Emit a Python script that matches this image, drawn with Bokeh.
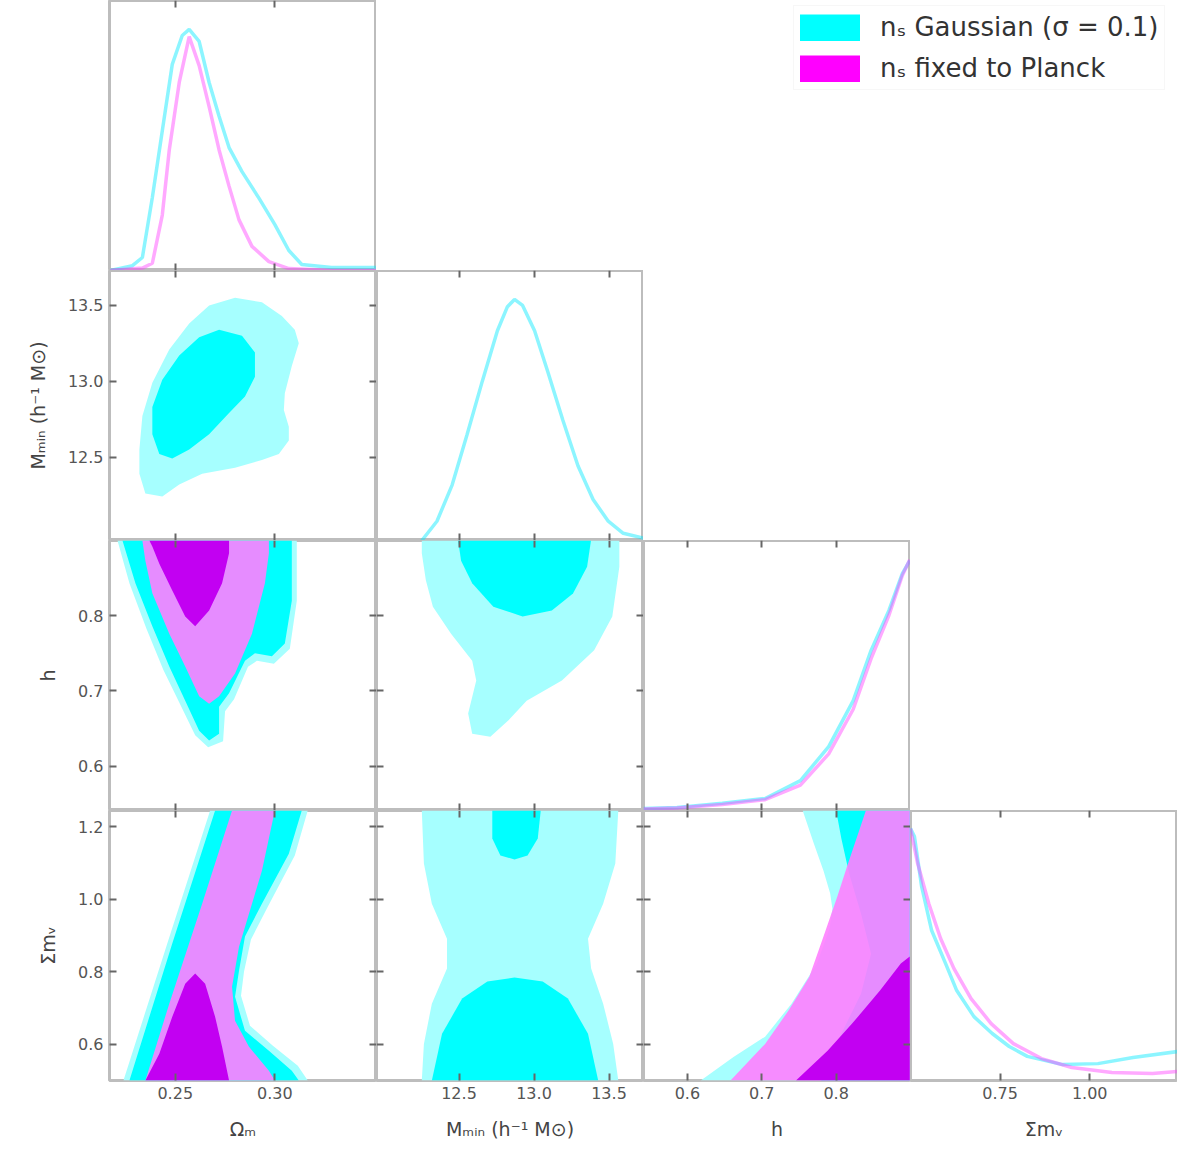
from bokeh.plotting import figure
from bokeh.models import Range1d, LinearAxis, FixedTicker, GridBox, Legend, LegendItem, PrintfTickFormatter
from bokeh.embed import file_html
from bokeh.resources import INLINE

# ---------------- parameters ----------------
PARAM_LABELS = ["Ωₘ", "Mₘᵢₙ (h⁻¹ M⊙)", "h", "Σmᵥ"]
PARAM_RANGES = [(0.217, 0.351), (11.95, 13.73), (0.541, 0.90), (0.50, 1.245)]
X_TICKS = [[0.25, 0.30], [12.5, 13.0, 13.5], [0.6, 0.7, 0.8], [0.75, 1.0]]
Y_TICKS = [[0.25, 0.30], [12.5, 13.0, 13.5], [0.6, 0.7, 0.8], [0.6, 0.8, 1.0, 1.2]]
X_TICK_FMT = ["%.2f", "%.1f", "%.1f", "%.2f"]
Y_TICK_FMT = ["%.2f", "%.1f", "%.1f", "%.1f"]
LEGEND_LABELS = ["nₛ Gaussian (σ = 0.1)", "nₛ fixed to Planck"]

# ---------------- 1D marginals ----------------
P1_CYAN_X = [0.2175, 0.2285, 0.2335, 0.2385, 0.2435, 0.2485, 0.2535, 0.257, 0.262, 0.267, 0.272, 0.277,
             0.2835, 0.292, 0.300, 0.307, 0.3135, 0.3285, 0.351]
P1_CYAN_Y = [0.0, 0.02, 0.054, 0.303, 0.58, 0.855, 0.975, 1.0, 0.95, 0.78, 0.64, 0.51,
             0.41, 0.30, 0.19, 0.083, 0.025, 0.012, 0.012]
P1_MAG_X = [0.2175, 0.2335, 0.2385, 0.2435, 0.247, 0.252, 0.257, 0.262, 0.267, 0.272, 0.277, 0.282,
            0.2885, 0.297, 0.307, 0.3285, 0.351]
P1_MAG_Y = [0.0, 0.01, 0.03, 0.23, 0.50, 0.78, 0.97, 0.85, 0.68, 0.50, 0.35, 0.21,
            0.10, 0.037, 0.008, 0.0, 0.0]

P2_CYAN_X = [12.252, 12.353, 12.454, 12.554, 12.655, 12.756, 12.823, 12.870, 12.924, 13.004, 13.092,
             13.192, 13.293, 13.394, 13.495, 13.595, 13.73]
P2_CYAN_Y = [0.0, 0.08, 0.23, 0.44, 0.66, 0.87, 0.97, 1.0, 0.975, 0.87, 0.70,
             0.50, 0.31, 0.17, 0.08, 0.03, 0.01]

P3_X = [0.541, 0.586, 0.647, 0.7045, 0.752, 0.790, 0.823, 0.847, 0.871, 0.889, 0.899]
P3_CYAN_Y = [0.008, 0.012, 0.03, 0.05, 0.124, 0.265, 0.456, 0.664, 0.83, 0.983, 1.037]
P3_MAG_Y = [0.006, 0.010, 0.025, 0.045, 0.105, 0.235, 0.42, 0.63, 0.81, 0.975, 1.04]

P4_CYAN_X = [0.500, 0.511, 0.531, 0.559, 0.598, 0.629, 0.677, 0.728, 0.7755, 0.826, 0.9245, 1.023, 1.121, 1.245]
P4_CYAN_Y = [1.045, 1.012, 0.805, 0.622, 0.485, 0.373, 0.265, 0.195, 0.141, 0.10, 0.066, 0.07, 0.095, 0.12]
P4_MAG_X = [0.500, 0.520, 0.551, 0.584, 0.621, 0.669, 0.725, 0.787, 0.8655, 0.950, 1.062, 1.175, 1.245]
P4_MAG_Y = [1.045, 0.90, 0.734, 0.589, 0.465, 0.34, 0.236, 0.153, 0.091, 0.054, 0.033, 0.029, 0.037]

# ---------------- 2D credible regions (95% = outer, 68% = inner) ----------------
# row 2, col 1 : P1 vs P2 (cyan only)
R2C1_CYAN95_X = [0.280, 0.2935, 0.3035, 0.310, 0.312, 0.3085, 0.305, 0.3045, 0.307, 0.307, 0.302, 0.2935,
                 0.280, 0.2635, 0.252, 0.2435, 0.235, 0.232, 0.232, 0.2335, 0.2385, 0.247, 0.257, 0.267]
R2C1_CYAN95_Y = [13.55, 13.52, 13.43, 13.34, 13.25, 13.10, 12.92, 12.81, 12.70, 12.61, 12.52, 12.48,
                 12.43, 12.39, 12.32, 12.24, 12.26, 12.39, 12.55, 12.77, 12.99, 13.21, 13.38, 13.50]
R2C1_CYAN68_X = [0.272, 0.2835, 0.290, 0.290, 0.285, 0.277, 0.267, 0.257, 0.2485, 0.242, 0.2385, 0.2385,
                 0.2435, 0.252, 0.262]
R2C1_CYAN68_Y = [13.34, 13.30, 13.19, 13.03, 12.90, 12.79, 12.65, 12.55, 12.49, 12.52, 12.65, 12.83,
                 13.01, 13.17, 13.29]

# row 3, col 1 : P1 vs P3
R3C1_CYAN95_X = [0.221, 0.227, 0.2355, 0.244, 0.2525, 0.260, 0.2665, 0.274, 0.275, 0.2795, 0.2865, 0.291,
                 0.2995, 0.3075, 0.311, 0.311]
R3C1_CYAN95_Y = [0.900, 0.843, 0.783, 0.728, 0.682, 0.641, 0.625, 0.633, 0.673, 0.689, 0.732, 0.740,
                 0.736, 0.756, 0.820, 0.900]
R3C1_CYAN68_X = [0.2235, 0.230, 0.2385, 0.247, 0.255, 0.262, 0.267, 0.272, 0.272, 0.277, 0.285, 0.290,
                 0.2985, 0.305, 0.3085, 0.3085]
R3C1_CYAN68_Y = [0.900, 0.843, 0.786, 0.7325, 0.687, 0.647, 0.634, 0.643, 0.679, 0.697, 0.740, 0.750,
                 0.746, 0.763, 0.820, 0.900]
R3C1_MAG95_X = [0.2335, 0.297, 0.297, 0.295, 0.2885, 0.280, 0.272, 0.267, 0.262, 0.255, 0.247, 0.2385, 0.235]
R3C1_MAG95_Y = [0.900, 0.900, 0.883, 0.843, 0.776, 0.723, 0.693, 0.683, 0.693, 0.7325, 0.776, 0.830, 0.873]
R3C1_MAG68_X = [0.237, 0.277, 0.277, 0.2735, 0.267, 0.260, 0.255, 0.2485, 0.242, 0.2385]
R3C1_MAG68_Y = [0.900, 0.900, 0.883, 0.843, 0.807, 0.786, 0.799, 0.8335, 0.869, 0.892]

# row 4, col 1 : P1 vs P4
R4C1_CYAN95_X = [0.2675, 0.3165, 0.310, 0.2965, 0.288, 0.2845, 0.283, 0.2875, 0.299, 0.3115, 0.3165, 0.224, 0.246]
R4C1_CYAN95_Y = [1.245, 1.245, 1.121, 0.980, 0.889, 0.800, 0.734, 0.651, 0.596, 0.541, 0.500, 0.500, 0.878]
R4C1_CYAN68_X = [0.270, 0.3135, 0.307, 0.2935, 0.285, 0.282, 0.280, 0.285, 0.297, 0.3085, 0.312, 0.227, 0.2485]
R4C1_CYAN68_Y = [1.245, 1.245, 1.126, 0.988, 0.897, 0.803, 0.731, 0.637, 0.582, 0.527, 0.500, 0.500, 0.878]
R4C1_MAG95_X = [0.2785, 0.300, 0.2935, 0.287, 0.282, 0.2785, 0.280, 0.287, 0.297, 0.300, 0.235, 0.247, 0.2635]
R4C1_MAG95_Y = [1.245, 1.245, 1.079, 0.960, 0.869, 0.759, 0.665, 0.593, 0.527, 0.500, 0.500, 0.712, 0.988]
R4C1_MAG68_X = [0.235, 0.242, 0.2485, 0.255, 0.260, 0.265, 0.270, 0.2735, 0.277]
R4C1_MAG68_Y = [0.500, 0.574, 0.676, 0.767, 0.795, 0.767, 0.676, 0.593, 0.500]

# row 3, col 2 : P2 vs P3 (cyan only)
R3C2_CYAN95_X = [12.252, 13.569, 13.569, 13.522, 13.401, 13.186, 12.951, 12.830, 12.709, 12.588, 12.561,
                 12.615, 12.588, 12.447, 12.326, 12.279, 12.252]
R3C2_CYAN95_Y = [0.900, 0.900, 0.865, 0.799, 0.754, 0.714, 0.687, 0.661, 0.639, 0.643, 0.670,
                 0.714, 0.740, 0.776, 0.812, 0.847, 0.883]
R3C2_CYAN68_X = [12.494, 13.380, 13.354, 13.260, 13.119, 12.924, 12.729, 12.588, 12.514]
R3C2_CYAN68_Y = [0.900, 0.900, 0.865, 0.8295, 0.807, 0.799, 0.812, 0.843, 0.873]

# row 4, col 2 : P2 vs P4 (cyan only, two inner islands)
R4C2_CYAN95_X = [12.252, 12.266, 12.319, 12.420, 12.420, 12.319, 12.266, 12.252, 13.562, 13.528, 13.461,
                 13.381, 13.360, 13.461, 13.542, 13.562]
R4C2_CYAN95_Y = [1.245, 1.099, 0.988, 0.891, 0.809, 0.712, 0.601, 0.500, 0.500, 0.601, 0.712,
                 0.809, 0.891, 0.988, 1.099, 1.245]
R4C2_CYAN68A_X = [12.722, 13.045, 13.025, 12.957, 12.870, 12.776, 12.722]
R4C2_CYAN68A_Y = [1.245, 1.245, 1.168, 1.121, 1.110, 1.121, 1.168]
R4C2_CYAN68B_X = [12.319, 12.387, 12.521, 12.689, 12.870, 13.058, 13.226, 13.360, 13.428]
R4C2_CYAN68B_Y = [0.500, 0.629, 0.726, 0.773, 0.784, 0.773, 0.726, 0.629, 0.500]

# row 4, col 3 : P3 vs P4
R4C3_CYAN95_X = [0.755, 0.899, 0.899, 0.618, 0.662, 0.7045, 0.740, 0.774, 0.791, 0.795, 0.792, 0.783, 0.770]
R4C3_CYAN95_Y = [1.245, 1.245, 0.500, 0.500, 0.565, 0.621, 0.712, 0.822, 0.919, 0.974, 1.016, 1.079, 1.154]
R4C3_CYAN68_X = [0.800, 0.899, 0.899, 0.780, 0.807, 0.8335, 0.847, 0.8335, 0.8175, 0.807]
R4C3_CYAN68_Y = [1.245, 1.245, 0.500, 0.500, 0.629, 0.7395, 0.850, 0.960, 1.071, 1.168]
R4C3_MAG95_X = [0.658, 0.7045, 0.736, 0.764, 0.783, 0.8015, 0.816, 0.831, 0.840, 0.899, 0.899]
R4C3_MAG95_Y = [0.500, 0.601, 0.693, 0.786, 0.897, 1.007, 1.099, 1.190, 1.245, 1.245, 0.500]
R4C3_MAG68_X = [0.746, 0.7885, 0.8215, 0.859, 0.887, 0.899, 0.899]
R4C3_MAG68_Y = [0.500, 0.582, 0.657, 0.748, 0.8225, 0.842, 0.500]

# ---------------- styling ----------------
FW, FH = 267, 270
LEFT, BOTTOM = 109, 80
CYAN_95, CYAN_68 = "#a6ffff", "#00ffff"
MAG_95, MAG_68 = "#ff80ff", "#c200f2"
CYAN_LINE, MAG_LINE = "#00e8ff", "#ff40ff"
FRAME = "#bdbdbd"
FONT = "DejaVu Sans"


def style_axis(ax, labelled, label=None, fmt=None):
    ax.axis_line_color = None
    ax.major_tick_in = 7
    ax.major_tick_out = 0
    ax.major_tick_line_color = "#666666"
    ax.major_tick_line_width = 2
    ax.minor_tick_line_color = None
    if labelled:
        ax.formatter = PrintfTickFormatter(format=fmt)
        ax.major_label_text_font = FONT
        ax.major_label_text_font_size = "16px"
        ax.major_label_text_color = "#555555"
        ax.major_label_standoff = 6
        ax.axis_label = label
        ax.axis_label_text_font = FONT
        ax.axis_label_text_font_size = "19px"
        ax.axis_label_text_font_style = "normal"
        ax.axis_label_text_color = "#444444"
        ax.axis_label_standoff = 16


def blank_axis(ticks, loc):
    ax = LinearAxis(ticker=FixedTicker(ticks=ticks), fixed_location=loc,
                    major_label_overrides={t: "" for t in ticks})
    style_axis(ax, False)
    return ax


def panel(r, c):
    xr = Range1d(*PARAM_RANGES[c])
    yr = Range1d(0, 1.12) if r == c else Range1d(*PARAM_RANGES[r])
    p = figure(width=FW + (LEFT if c == 0 else 0), height=FH + (BOTTOM if r == 3 else 0),
               x_range=xr, y_range=yr, x_axis_type=None, y_axis_type=None,
               toolbar_location=None, output_backend="svg",
               min_border_left=LEFT if c == 0 else 0, min_border_right=0,
               min_border_top=0, min_border_bottom=BOTTOM if r == 3 else 0)
    p.outline_line_color = FRAME
    p.outline_line_width = 3
    p.background_fill_color = "white"
    p.border_fill_color = "white"
    xt = X_TICKS[c]
    if r == 3:
        ax = LinearAxis(ticker=FixedTicker(ticks=xt))
        style_axis(ax, True, PARAM_LABELS[c], X_TICK_FMT[c])
        p.add_layout(ax, "below")
    else:
        p.add_layout(blank_axis(xt, yr.start), "below")
    p.add_layout(blank_axis(xt, yr.end), "above")
    if r != c:
        yt = Y_TICKS[r]
        if c == 0:
            ay = LinearAxis(ticker=FixedTicker(ticks=yt))
            style_axis(ay, True, PARAM_LABELS[r], Y_TICK_FMT[r])
            p.add_layout(ay, "left")
        else:
            p.add_layout(blank_axis(yt, xr.start), "left")
        p.add_layout(blank_axis(yt, xr.end), "right")
    return p


def region(p, xs, ys, color, alpha=1.0):
    p.patch(xs, ys, fill_color=color, fill_alpha=alpha, line_color=None)


def marg(p, xs, ys, color):
    p.line(xs, ys, line_color=color, line_width=3.5, line_alpha=0.45)


panels = {}
for r in range(4):
    for c in range(r + 1):
        panels[(r, c)] = panel(r, c)

# diagonal
marg(panels[(0, 0)], P1_CYAN_X, P1_CYAN_Y, CYAN_LINE)
marg(panels[(0, 0)], P1_MAG_X, P1_MAG_Y, MAG_LINE)
marg(panels[(1, 1)], P2_CYAN_X, P2_CYAN_Y, CYAN_LINE)
marg(panels[(2, 2)], P3_X, P3_CYAN_Y, CYAN_LINE)
marg(panels[(2, 2)], P3_X, P3_MAG_Y, MAG_LINE)
marg(panels[(3, 3)], P4_CYAN_X, P4_CYAN_Y, CYAN_LINE)
marg(panels[(3, 3)], P4_MAG_X, P4_MAG_Y, MAG_LINE)

# off-diagonal
p = panels[(1, 0)]
region(p, R2C1_CYAN95_X, R2C1_CYAN95_Y, CYAN_95)
region(p, R2C1_CYAN68_X, R2C1_CYAN68_Y, CYAN_68)

p = panels[(2, 0)]
region(p, R3C1_CYAN95_X, R3C1_CYAN95_Y, CYAN_95)
region(p, R3C1_CYAN68_X, R3C1_CYAN68_Y, CYAN_68)
region(p, R3C1_MAG95_X, R3C1_MAG95_Y, MAG_95, 0.9)
region(p, R3C1_MAG68_X, R3C1_MAG68_Y, MAG_68)

p = panels[(3, 0)]
region(p, R4C1_CYAN95_X, R4C1_CYAN95_Y, CYAN_95)
region(p, R4C1_CYAN68_X, R4C1_CYAN68_Y, CYAN_68)
region(p, R4C1_MAG95_X, R4C1_MAG95_Y, MAG_95, 0.9)
region(p, R4C1_MAG68_X, R4C1_MAG68_Y, MAG_68)

p = panels[(2, 1)]
region(p, R3C2_CYAN95_X, R3C2_CYAN95_Y, CYAN_95)
region(p, R3C2_CYAN68_X, R3C2_CYAN68_Y, CYAN_68)

p = panels[(3, 1)]
region(p, R4C2_CYAN95_X, R4C2_CYAN95_Y, CYAN_95)
region(p, R4C2_CYAN68A_X, R4C2_CYAN68A_Y, CYAN_68)
region(p, R4C2_CYAN68B_X, R4C2_CYAN68B_Y, CYAN_68)

p = panels[(3, 2)]
region(p, R4C3_CYAN95_X, R4C3_CYAN95_Y, CYAN_95)
region(p, R4C3_CYAN68_X, R4C3_CYAN68_Y, CYAN_68)
region(p, R4C3_MAG95_X, R4C3_MAG95_Y, MAG_95, 0.9)
region(p, R4C3_MAG68_X, R4C3_MAG68_Y, MAG_68)

# legend figure spanning the empty top-right cells; the swatch renderers sit outside the visible range
lp = figure(width=2 * FW, height=FH, x_range=Range1d(0, 1), y_range=Range1d(0, 1),
            x_axis_type=None, y_axis_type=None, toolbar_location=None, output_backend="svg",
            min_border=0)
lp.outline_line_color = None
lr1 = lp.line(x=[5, 6], y=[5, 6], line_width=27, line_cap="round", line_color="#00ffff")
lr2 = lp.line(x=[5, 6], y=[5, 6], line_width=27, line_cap="round", line_color="#ff00ff")
legend = Legend(items=[LegendItem(label=LEGEND_LABELS[0], renderers=[lr1]),
                       LegendItem(label=LEGEND_LABELS[1], renderers=[lr2])],
                location=(150, 180), glyph_width=60, glyph_height=27, label_standoff=20,
                spacing=11, padding=6, margin=0, label_text_font=FONT,
                label_text_font_size="26px", label_text_color="#333333",
                border_line_color="#f0f0f0", background_fill_color="white")
lp.add_layout(legend)

children = [(panels[(r, c)], r, c) for (r, c) in panels]
children.append((lp, 0, 2, 1, 2))
grid = GridBox(children=children, spacing=0)

open("out.html", "w").write(file_html(grid, INLINE))
